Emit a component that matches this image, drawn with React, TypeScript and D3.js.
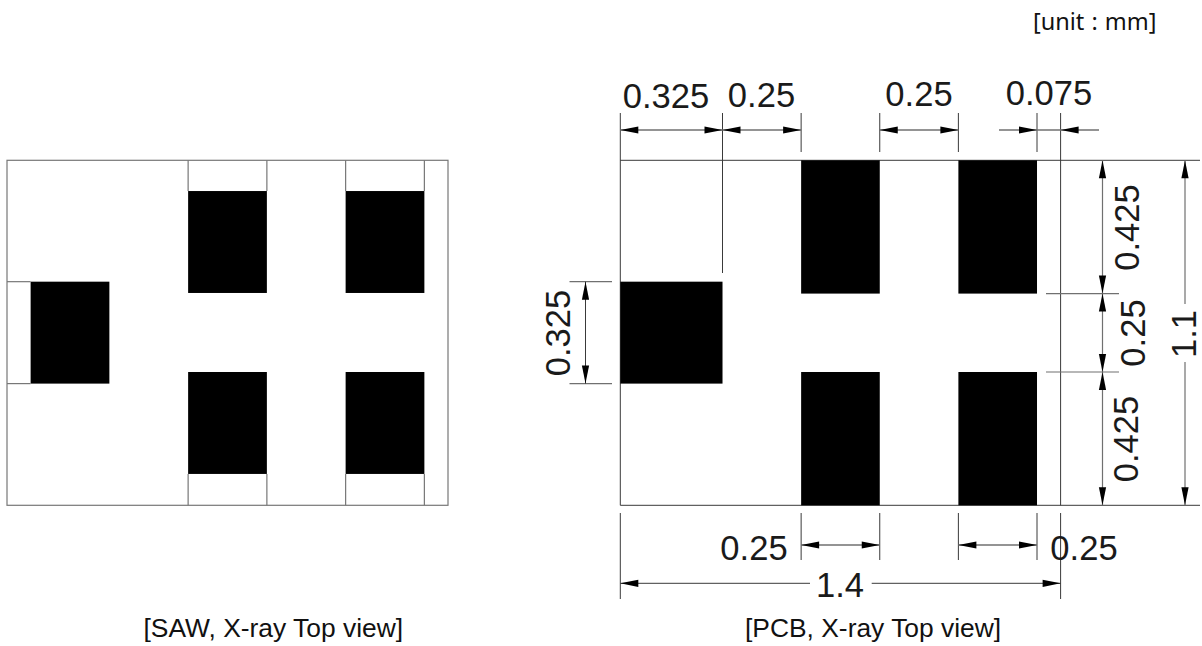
import React from "react";
import * as d3 from "d3";

const W = 1202, H = 646;
const FONT = "'Liberation Sans', Arial, sans-serif";
const UNIT_FONT = "'Noto Sans', 'Open Sans', sans-serif";

// drawing values, in millimetres
const widthMm = 1.4;
const heightMm = 1.1;
const sawPadX = [0.075, 0.575, 1.075];
const pcbPadX = [0, 0.575, 1.075];
const padW = [0.25, 0.25, 0.25];
const pcbPadW = [0.325, 0.25, 0.25];
const padYRows = [0.387, 0.098, 0.675];
const padH = 0.325;
const pcbColumnTop = [0, 0.675];
const pcbColumnH = 0.425;

const dimTopLabels = ["0.325", "0.25", "0.25", "0.075"];
const dimRightLabels = ["0.425", "0.25", "0.425"];
const dimTotalW = "1.4";
const dimTotalH = "1.1";

const captions = ["[SAW, X-ray Top view]", "[PCB, X-ray Top view]", "[unit : mm]"];

const sx = d3.scaleLinear().domain([0, widthMm]).range([7, 448]);
const sy = d3.scaleLinear().domain([0, heightMm]).range([160.3, 505.3]);
const px = d3.scaleLinear().domain([0, widthMm]).range([620.3, 1060.6]);
const py = d3.scaleLinear().domain([0, heightMm]).range([160.3, 505.3]);

const LINE = "#3a3a3a";
const DIM = "#707070";

function L({ x1, y1, x2, y2, c = LINE, w = 1 }: any) {
  return <line x1={x1} y1={y1} x2={x2} y2={y2} stroke={c} strokeWidth={w} />;
}

// arrow whose tip is at (x, y), pointing along dir
function Arrow({ x, y, dir, len = 18, hw = 3.6 }: any) {
  const d: Record<string, [number, number]> = { l: [-1, 0], r: [1, 0], u: [0, -1], d: [0, 1] };
  const [dx, dy] = d[dir];
  const bx = x - dx * len, by = y - dy * len;
  return (
    <polygon
      points={`${x},${y} ${bx - dy * hw},${by - dx * hw} ${bx + dy * hw},${by + dx * hw}`}
      fill="#000"
    />
  );
}

function Dim({ x, y, s = 34.6, rot = false, children }: any) {
  return (
    <text
      x={x}
      y={y}
      fontFamily={FONT}
      fontSize={s}
      fill="#1a1a1a"
      textAnchor="middle"
      dominantBaseline="central"
      transform={rot ? `rotate(-90 ${x} ${y})` : undefined}
    >
      {children}
    </text>
  );
}

function HDim({ a, b, y }: any) {
  return (
    <g>
      <L x1={a} y1={y} x2={b} y2={y} c={DIM} w={1.3} />
      <Arrow x={a} y={y} dir="l" />
      <Arrow x={b} y={y} dir="r" />
    </g>
  );
}

export default function App() {
  const sawRects = [
    { x: sawPadX[0], y: padYRows[0], w: padW[0] },
    { x: sawPadX[1], y: padYRows[1], w: padW[1] },
    { x: sawPadX[2], y: padYRows[1], w: padW[2] },
    { x: sawPadX[1], y: padYRows[2], w: padW[1] },
    { x: sawPadX[2], y: padYRows[2], w: padW[2] },
  ];
  const xA = px(0), xB = px(pcbPadW[0]);
  const c1a = px(pcbPadX[1]), c1b = px(pcbPadX[1] + pcbPadW[1]);
  const c2a = px(pcbPadX[2]), c2b = px(pcbPadX[2] + pcbPadW[2]);
  const xR = px(widthMm);
  const yT = py(0), yB = py(heightMm);
  const yM1 = py(pcbColumnH), yM2 = py(pcbColumnTop[1]);
  const yL1 = py(padYRows[0]), yL2 = py(padYRows[0] + padH);
  const dimX = 1102.5, totX = 1185;

  return (
    <svg
      width={W}
      height={H}
      viewBox={`0 0 ${W} ${H}`}
      style={{ position: "absolute", left: 0, top: 0, background: "#fff" }}
    >
      {/* SAW view */}
      <rect x={sx(0)} y={sy(0)} width={sx(widthMm) - sx(0)} height={sy(heightMm) - sy(0)} fill="none" stroke="#777" strokeWidth={1.2} />
      {sawRects.map((r, i) => (
        <rect key={i} x={sx(r.x)} y={sy(r.y)} width={sx(r.x + r.w) - sx(r.x)} height={sy(r.y + padH) - sy(r.y)} fill="#000" />
      ))}
      {sawPadX.slice(1).flatMap((v, i) => [v, v + padW[i + 1]]).map((v, i) => (
        <g key={i}>
          <L x1={sx(v)} y1={sy(0)} x2={sx(v)} y2={sy(padYRows[1])} c="#777" w={1.2} />
          <L x1={sx(v)} y1={sy(padYRows[2] + padH)} x2={sx(v)} y2={sy(heightMm)} c="#777" w={1.2} />
        </g>
      ))}
      {[padYRows[0], padYRows[0] + padH].map((v, i) => (
        <L key={i} x1={sx(0)} y1={sy(v)} x2={sx(sawPadX[0])} y2={sy(v)} c="#777" w={1.2} />
      ))}

      {/* PCB view */}
      <L x1={xA} y1={113} x2={xA} y2={yB} />
      <L x1={xA} y1={yT} x2={1200} y2={yT} />
      <L x1={xA} y1={yB} x2={1200} y2={yB} />
      <L x1={xR} y1={113} x2={xR} y2={yB} />
      <L x1={xB} y1={113} x2={xB} y2={273} />
      <rect x={xA} y={yL1} width={xB - xA} height={yL2 - yL1} fill="#000" />
      {[pcbPadX[1], pcbPadX[2]].flatMap((v, i) =>
        pcbColumnTop.map((t, j) => (
          <rect key={`${i}-${j}`} x={px(v)} y={py(t)} width={px(v + pcbPadW[i + 1]) - px(v)} height={py(t + pcbColumnH) - py(t)} fill="#000" />
        ))
      )}

      {/* top dims */}
      {[c1a, c1b, c2a, c2b].map((v, i) => (
        <L key={i} x1={v} y1={113} x2={v} y2={152} />
      ))}
      <HDim a={xA} b={xB} y={130} />
      <HDim a={xB} b={c1a} y={130} />
      <HDim a={c1b} b={c2a} y={130} />
      <L x1={999} y1={130} x2={1099} y2={130} c={DIM} w={1.3} />
      <Arrow x={c2b} y={130} dir="r" />
      <Arrow x={xR} y={130} dir="l" />
      <Dim x={666} y={96}>{dimTopLabels[0]}</Dim>
      <Dim x={761.5} y={95}>{dimTopLabels[1]}</Dim>
      <Dim x={919} y={94}>{dimTopLabels[2]}</Dim>
      <Dim x={1049} y={92.5}>{dimTopLabels[3]}</Dim>

      {/* left dim */}
      <L x1={569.5} y1={yL1} x2={612} y2={yL1} c={DIM} w={1.2} />
      <L x1={569.5} y1={yL2} x2={612} y2={yL2} c={DIM} w={1.2} />
      <L x1={585.5} y1={yL1} x2={585.5} y2={yL2} c={LINE} w={1} />
      <Arrow x={585.5} y={yL1} dir="u" />
      <Arrow x={585.5} y={yL2} dir="d" />
      <Dim x={558} y={333} rot>{"0.325"}</Dim>

      {/* right dims */}
      <L x1={1046} y1={yM1} x2={1119} y2={yM1} c={DIM} w={1.2} />
      <L x1={1046} y1={yM2} x2={1119} y2={yM2} c={DIM} w={1.2} />
      <L x1={dimX} y1={yT} x2={dimX} y2={yB} c={DIM} w={1.2} />
      {[yT, yM1 + 0, yM2].map((v, i) => (
        <Arrow key={i} x={dimX} y={v} dir="u" />
      ))}
      {[yM1, yM2, yB].map((v, i) => (
        <Arrow key={i} x={dimX} y={v} dir="d" />
      ))}
      <Dim x={1127} y={227.5} rot>{dimRightLabels[0]}</Dim>
      <Dim x={1133} y={333} rot>{dimRightLabels[1]}</Dim>
      <Dim x={1126} y={439} rot>{dimRightLabels[2]}</Dim>
      <L x1={totX} y1={yT} x2={totX} y2={304} c={DIM} w={1.2} />
      <L x1={totX} y1={362} x2={totX} y2={yB} c={DIM} w={1.2} />
      <Arrow x={totX} y={yT} dir="u" />
      <Arrow x={totX} y={yB} dir="d" />
      <Dim x={1184} y={334} rot>{dimTotalH}</Dim>

      {/* bottom dims */}
      {[xA, xR].map((v, i) => (
        <L key={i} x1={v} y1={513} x2={v} y2={599} />
      ))}
      {[c1a, c1b, c2a, c2b].map((v, i) => (
        <L key={i} x1={v} y1={513} x2={v} y2={560} />
      ))}
      <HDim a={c1a} b={c1b} y={545} />
      <HDim a={c2a} b={c2b} y={545} />
      <Dim x={754} y={547.5}>{"0.25"}</Dim>
      <Dim x={1084} y={548}>{"0.25"}</Dim>
      <L x1={xA} y1={583.3} x2={810} y2={583.3} />
      <L x1={871.7} y1={583.3} x2={xR} y2={583.3} />
      <Arrow x={xA} y={583.3} dir="l" />
      <Arrow x={xR} y={583.3} dir="r" />
      <Dim x={840} y={584.5}>{dimTotalW}</Dim>

      {/* captions */}
      <text x={143.5} y={636.8} fontFamily={FONT} fontSize={26.4} fill="#111">{captions[0]}</text>
      <text x={745} y={637} fontFamily={FONT} fontSize={26.4} fill="#111">{captions[1]}</text>
      <text x={1033} y={30} fontFamily={UNIT_FONT} fontSize={23.5} wordSpacing={1} fill="#111">{captions[2]}</text>
    </svg>
  );
}
